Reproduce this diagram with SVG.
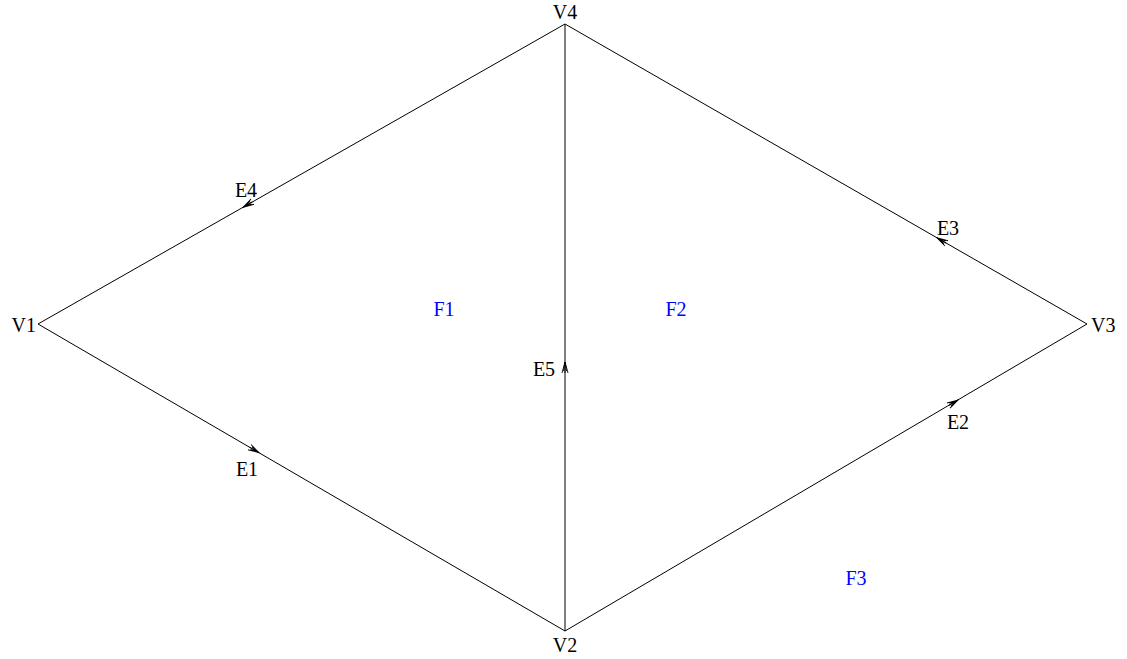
<svg xmlns="http://www.w3.org/2000/svg" width="1127" height="659" viewBox="0 0 1127 659">
<style>
.edge{stroke:#000;stroke-width:1;fill:none}
.lbl{font-family:"Liberation Serif",serif;font-size:20px;fill:#000}
.face{font-family:"Liberation Serif",serif;font-size:20px;fill:#0000ff}
</style>
<defs>
<marker id="arr" markerUnits="userSpaceOnUse" markerWidth="14" markerHeight="10" viewBox="-12 -5 14 10" refX="0" refY="0" orient="auto" overflow="visible">
<path d="M-11,-3 L0,0 L-11,3 M-11,0 L0,0 M-9,-1.5 L0,0 L-9,1.5" stroke="#000" stroke-width="0.9" fill="none"/>
</marker>
</defs>
<rect width="1127" height="659" fill="#fff"/>
<g id="connectors">
<line class="edge" x1="38" y1="324" x2="565" y2="24"/>
<line class="edge" x1="38" y1="324" x2="565" y2="631"/>
<line class="edge" x1="565" y1="631" x2="565" y2="24"/>
<line class="edge" x1="565" y1="24" x2="1087" y2="324"/>
<line class="edge" x1="565" y1="631" x2="1087" y2="324"/>
<path class="edge" d="M244.7,206.3 L243,207.3" marker-end="url(#arr)"/>
<path class="edge" d="M257.3,451.7 L259,452.7" marker-end="url(#arr)"/>
<path class="edge" d="M565,364 L565,362" marker-end="url(#arr)"/>
<path class="edge" d="M938.7,238.8 L937,237.8" marker-end="url(#arr)"/>
<path class="edge" d="M956.3,401 L958,400" marker-end="url(#arr)"/>
<text class="lbl" x="246" y="197" text-anchor="middle">E4</text>
<text class="lbl" x="247" y="476" text-anchor="middle">E1</text>
<text class="lbl" x="544" y="376" text-anchor="middle">E5</text>
<text class="lbl" x="948" y="235" text-anchor="middle">E3</text>
<text class="lbl" x="958" y="429" text-anchor="middle">E2</text>
</g>
<g id="V1"><text class="lbl" x="36" y="332" text-anchor="end">V1</text></g>
<g id="V2"><text class="lbl" x="565" y="652" text-anchor="middle">V2</text></g>
<g id="V3"><text class="lbl" x="1091" y="332">V3</text></g>
<g id="V4"><text class="lbl" x="565" y="19" text-anchor="middle">V4</text></g>
<g id="F1"><text class="face" x="444" y="316" text-anchor="middle">F1</text></g>
<g id="F2"><text class="face" x="676" y="316" text-anchor="middle">F2</text></g>
<g id="F3"><text class="face" x="856" y="585" text-anchor="middle">F3</text></g>
</svg>
